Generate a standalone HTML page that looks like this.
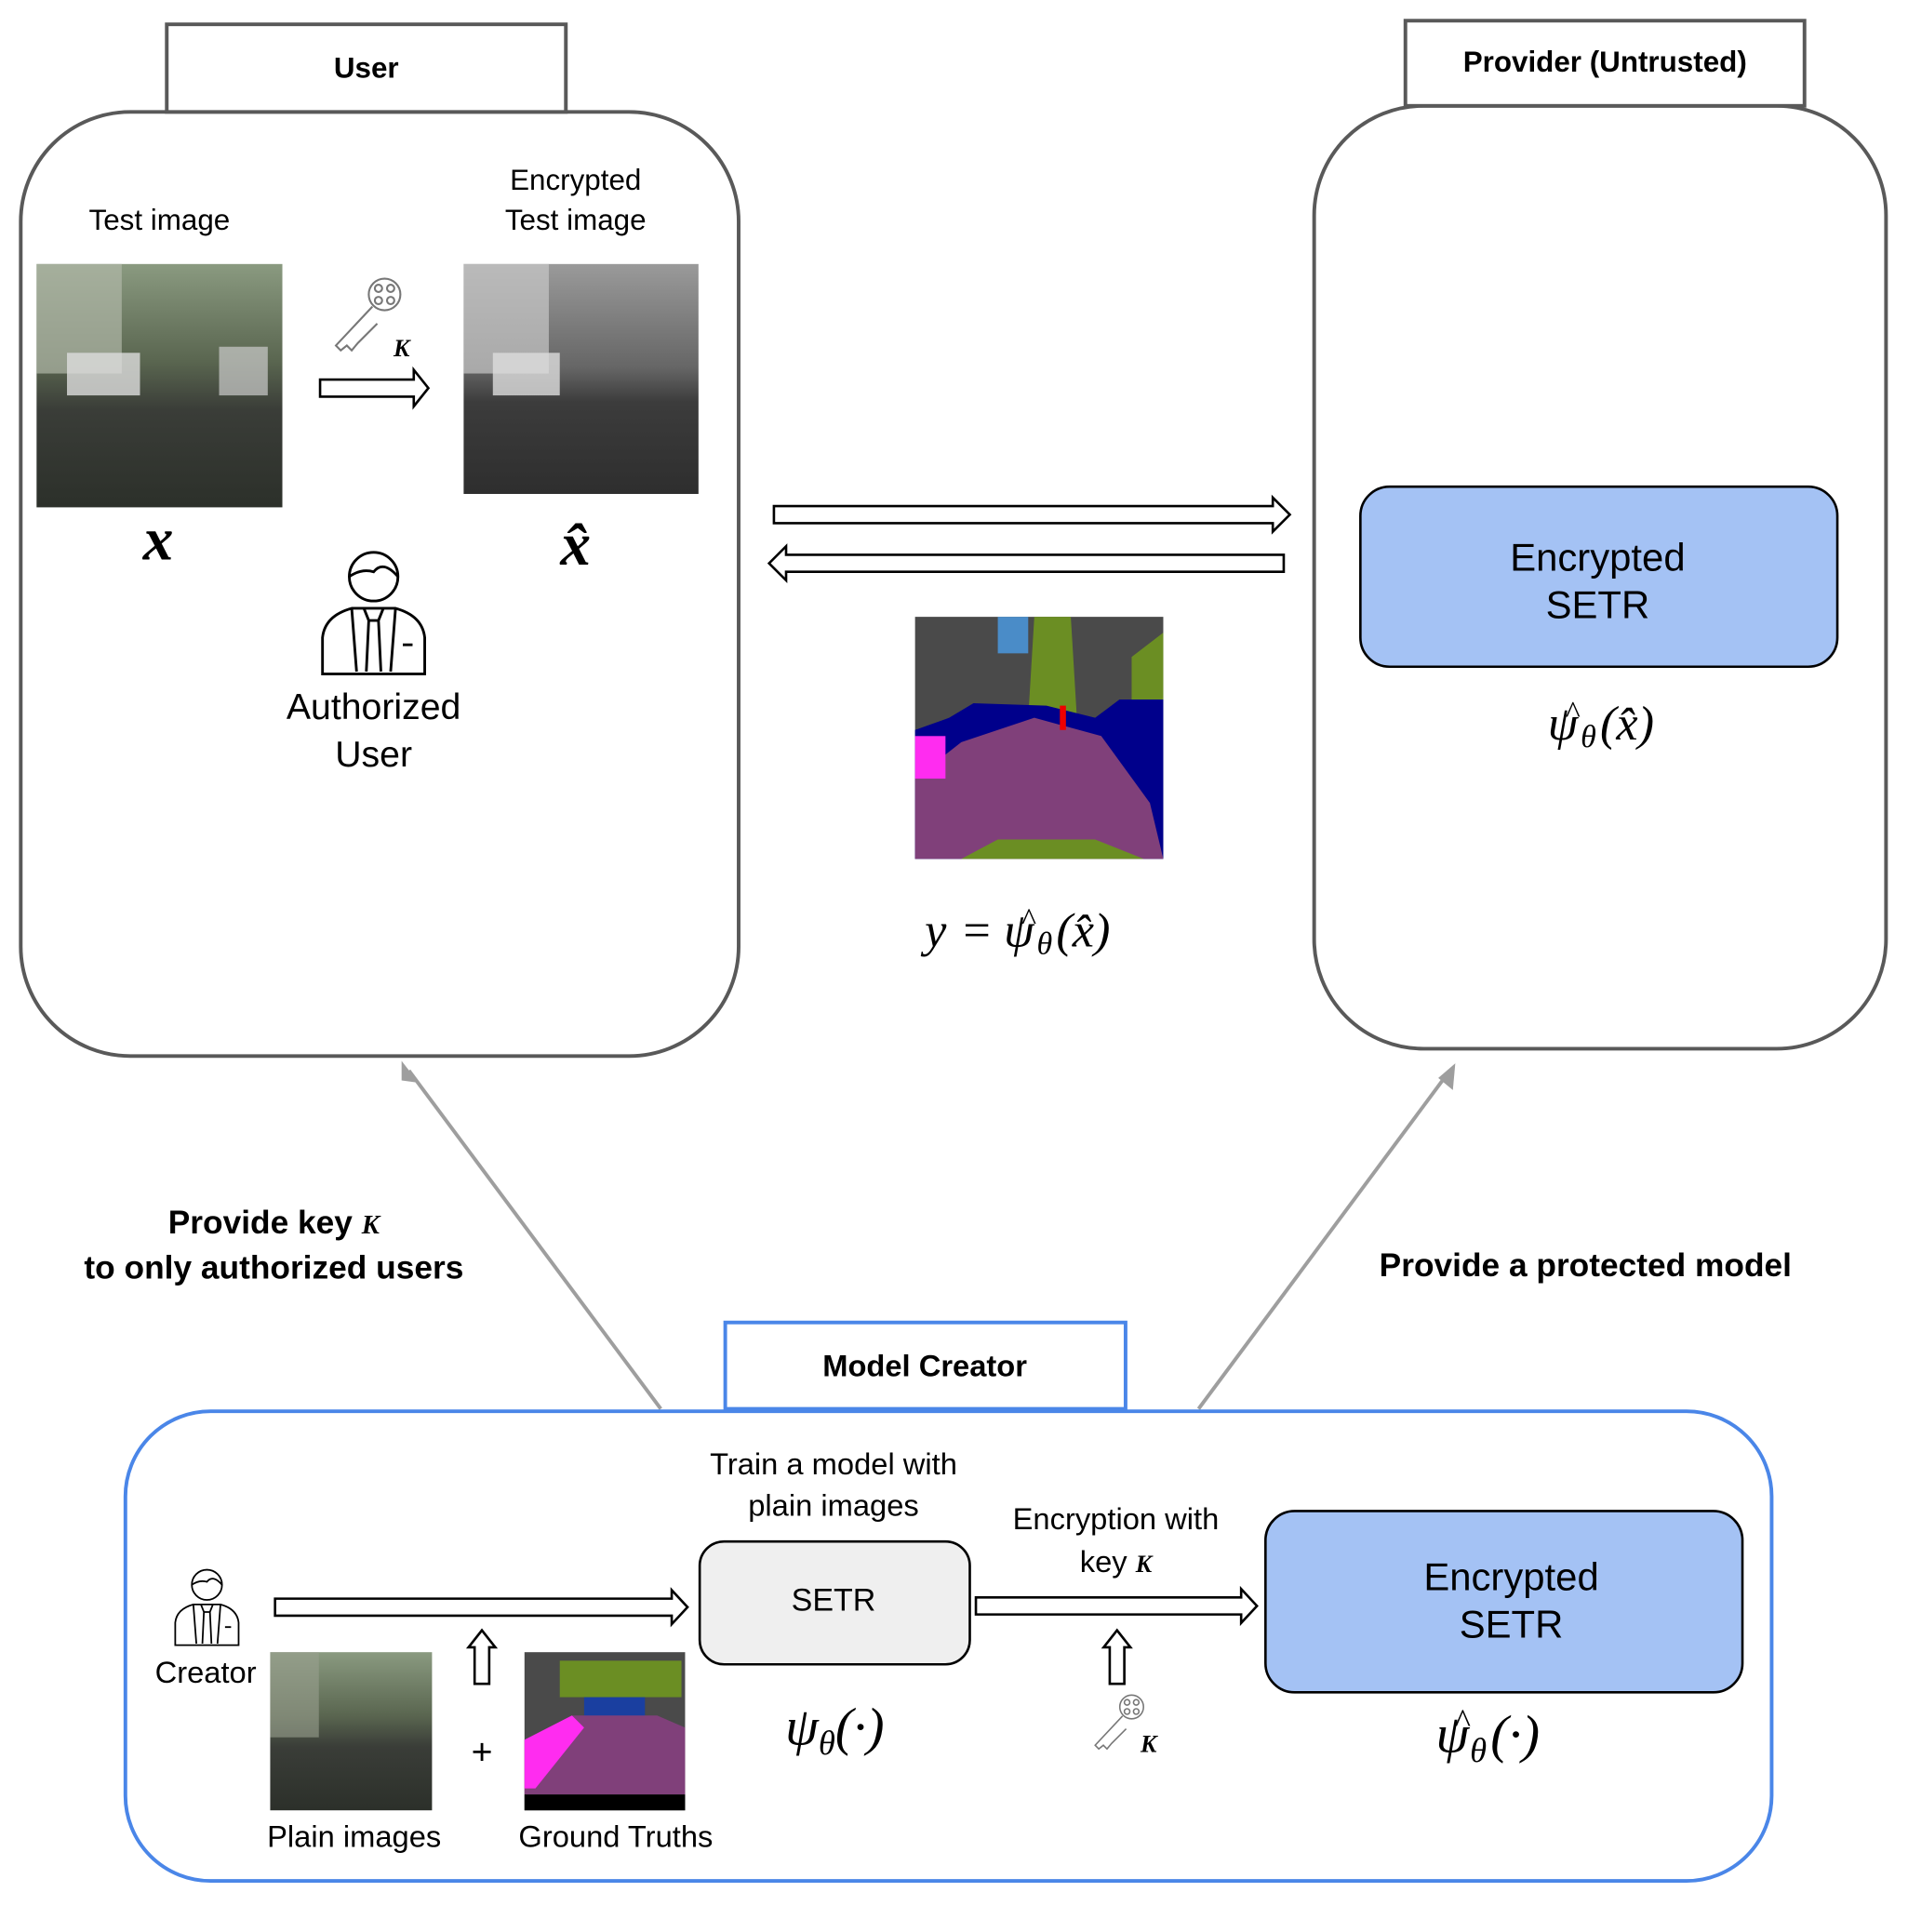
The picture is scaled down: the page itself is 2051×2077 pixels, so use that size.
<!DOCTYPE html>
<html><head><meta charset="utf-8"><style>html,body{margin:0;padding:0;background:#fff}svg{display:block}
.s{font-family:"Liberation Sans",sans-serif}.m{font-family:"Liberation Serif",serif;font-style:italic}</style></head>
<body>
<svg width="2051" height="2077" viewBox="0 0 1568 1588" xmlns="http://www.w3.org/2000/svg">
<defs>
<linearGradient id="st" x1="0" y1="0" x2="0" y2="1"><stop offset="0" stop-color="#8a9a80"/><stop offset="0.4" stop-color="#5a6650"/><stop offset="0.6" stop-color="#3a3d38"/><stop offset="1" stop-color="#2c302a"/></linearGradient>
<linearGradient id="sg" x1="0" y1="0" x2="0" y2="1"><stop offset="0" stop-color="#9a9a9a"/><stop offset="0.45" stop-color="#666"/><stop offset="0.6" stop-color="#3c3c3c"/><stop offset="1" stop-color="#2e2e2e"/></linearGradient>
<g id="user" fill="none" stroke="#000" stroke-width="2.2">
<circle cx="0" cy="-28" r="20"/><path d="M-20 -28 Q-10 -35 0 -32 Q8 -42 20 -28"/>
<path d="M-42 52 L-42 22 Q-40 4 -18 -2 L18 -2 Q40 4 42 22 L42 52 Z"/>
<path d="M-8 -2 L-4 8 L-6 50 M8 -2 L4 8 L6 50 M-4 8 L4 8 M-18 -2 L-14 50 M18 -2 L14 50 M24 28 L32 28"/>
</g>
<g id="key" fill="none" stroke="#777" stroke-width="1.6">
<circle cx="16" cy="-16" r="13"/><circle cx="11" cy="-21" r="3"/><circle cx="21" cy="-21" r="3"/><circle cx="11" cy="-11" r="3"/><circle cx="21" cy="-11" r="3"/><path d="M6 -6 L-24 26 L-20 30 L-15 26 L-11 30 L-6 24 L10 8"/>
</g>
</defs>
<!-- User -->
<rect x="17" y="92" width="590" height="776" rx="90" fill="none" stroke="#595959" stroke-width="3"/>
<rect x="137" y="20" width="328" height="72" fill="#fff" stroke="#595959" stroke-width="3"/>
<text x="301" y="64" class="s" font-size="24" font-weight="bold" text-anchor="middle">User</text>
<text x="131" y="189" class="s" font-size="24" text-anchor="middle">Test image</text>
<rect x="30" y="217" width="202" height="200" fill="url(#st)"/>
<rect x="30" y="217" width="70" height="90" fill="#b0b8a8" opacity="0.7"/>
<rect x="55" y="290" width="60" height="35" fill="#ddd" opacity="0.8"/>
<rect x="180" y="285" width="40" height="40" fill="#ccc" opacity="0.7"/>
<text x="473" y="156" class="s" font-size="24" text-anchor="middle">Encrypted</text>
<text x="473" y="189" class="s" font-size="24" text-anchor="middle">Test image</text>
<rect x="381" y="217" width="193" height="189" fill="url(#sg)"/>
<rect x="381" y="217" width="70" height="90" fill="#c8c8c8" opacity="0.7"/>
<rect x="405" y="290" width="55" height="35" fill="#ddd" opacity="0.8"/>
<use href="#key" x="300" y="258"/>
<text x="330" y="293" class="m" font-size="20" font-weight="bold" text-anchor="middle">K</text>
<path d="M263 312 L340 312 L340 304 L352 319 L340 334 L340 326 L263 326 Z" fill="#fff" stroke="#000" stroke-width="2"/>
<text x="130" y="460" class="m" font-size="50" font-weight="bold" text-anchor="middle">x</text>
<text x="473" y="464" class="m" font-size="50" font-weight="bold" text-anchor="middle">x̂</text>
<use href="#user" x="307" y="502"/>
<text x="307" y="591" class="s" font-size="30" text-anchor="middle">Authorized</text>
<text x="307" y="630" class="s" font-size="30" text-anchor="middle">User</text>
<!-- middle arrows -->
<path d="M636 416 L1046 416 L1046 409 L1060 423 L1046 437 L1046 430 L636 430 Z" fill="#fff" stroke="#000" stroke-width="2"/>
<path d="M1055 456 L646 456 L646 449 L632 463 L646 477 L646 470 L1055 470 Z" fill="#fff" stroke="#000" stroke-width="2"/>
<rect x="752" y="507" width="204" height="199" fill="#4a4a4a"/>
<rect x="820" y="507" width="25" height="30" fill="#4a8cc8"/>
<path d="M850 507 L880 507 L885 590 L845 590 Z" fill="#6b8e23"/>
<path d="M930 540 L956 520 L956 600 L930 600 Z" fill="#6b8e23"/>
<path d="M752 600 L780 590 L800 578 L860 580 L900 590 L920 575 L956 575 L956 706 L752 706 Z" fill="#00008b"/>
<path d="M752 640 L790 610 L850 590 L905 605 L945 660 L956 706 L752 706 Z" fill="#80407a"/>
<rect x="752" y="605" width="25" height="35" fill="#ff2cf0"/>
<path d="M790 706 L820 690 L900 690 L940 706 Z" fill="#6b8e23"/>
<rect x="871" y="580" width="5" height="20" fill="#e00"/>
<text x="760" y="778" class="m" font-size="40">y</text>
<text x="789" y="778" class="m" font-size="40">=</text>
<text x="825" y="778" class="m" font-size="40">ψ</text>
<text x="839" y="764" class="m" font-size="26">^</text>
<text x="852" y="784" class="m" font-size="26">θ</text>
<text x="868" y="778" class="m" font-size="40">(x̂)</text>
<!-- Provider -->
<rect x="1080" y="87" width="470" height="775" rx="90" fill="none" stroke="#595959" stroke-width="3"/>
<rect x="1155" y="17" width="328" height="70" fill="#fff" stroke="#595959" stroke-width="3"/>
<text x="1319" y="59" class="s" font-size="24" font-weight="bold" text-anchor="middle">Provider (Untrusted)</text>
<rect x="1118" y="400" width="392" height="148" rx="24" fill="#a4c2f4" stroke="#000" stroke-width="2"/>
<text x="1313" y="469" class="s" font-size="32" text-anchor="middle">Encrypted</text>
<text x="1313" y="508" class="s" font-size="32" text-anchor="middle">SETR</text>
<text x="1272" y="608" class="m" font-size="40">ψ</text>
<text x="1286" y="594" class="m" font-size="26">^</text>
<text x="1299" y="614" class="m" font-size="26">θ</text>
<text x="1315" y="608" class="m" font-size="40">(x̂)</text>
<!-- gray connectors -->
<g stroke="#9e9e9e" stroke-width="3" fill="#9e9e9e">
<line x1="543" y1="1158" x2="336" y2="880"/>
<line x1="985" y1="1158" x2="1190" y2="882"/>
</g>
<path d="M330 872 L344 890 L330 888 Z" fill="#9e9e9e"/>
<path d="M1196 874 L1194 896 L1182 886 Z" fill="#9e9e9e"/>
<text x="225" y="1014" class="s" font-size="27" font-weight="bold" text-anchor="middle">Provide key <tspan class="m" font-size="22">K</tspan></text>
<text x="225" y="1051" class="s" font-size="27" font-weight="bold" text-anchor="middle">to only authorized users</text>
<text x="1303" y="1049" class="s" font-size="27" font-weight="bold" text-anchor="middle">Provide a protected model</text>
<!-- Model creator -->
<rect x="103" y="1160" width="1353" height="386" rx="70" fill="none" stroke="#4a86e8" stroke-width="3"/>
<rect x="596" y="1087" width="329" height="71" fill="#fff" stroke="#4a86e8" stroke-width="3"/>
<text x="760" y="1131" class="s" font-size="25" font-weight="bold" text-anchor="middle">Model Creator</text>
<g transform="translate(170 1320) scale(0.62)"><use href="#user"/></g>
<text x="169" y="1383" class="s" font-size="25" text-anchor="middle">Creator</text>
<path d="M226 1314 L552 1314 L552 1307 L565 1321 L552 1335 L552 1328 L226 1328 Z" fill="#fff" stroke="#000" stroke-width="2"/>
<path d="M390 1384 L390 1354 L385 1354 L396 1340 L407 1354 L402 1354 L402 1384 Z" fill="#fff" stroke="#000" stroke-width="2"/>
<rect x="222" y="1358" width="133" height="130" fill="url(#st)"/>
<rect x="222" y="1358" width="40" height="70" fill="#9aa090" opacity="0.6"/>
<text x="396" y="1450" class="s" font-size="30" text-anchor="middle">+</text>
<rect x="431" y="1358" width="132" height="130" fill="#4a4a4a"/>
<rect x="460" y="1365" width="100" height="30" fill="#6b8e23"/>
<rect x="480" y="1395" width="50" height="25" fill="#1a3fa0"/>
<path d="M431 1430 L470 1410 L540 1410 L563 1420 L563 1475 L431 1475 Z" fill="#80407a"/>
<path d="M431 1430 L470 1410 L480 1420 L440 1470 L431 1470 Z" fill="#ff2cf0"/>
<rect x="431" y="1475" width="132" height="13" fill="#000"/>
<text x="291" y="1518" class="s" font-size="25" text-anchor="middle">Plain images</text>
<text x="506" y="1518" class="s" font-size="25" text-anchor="middle">Ground Truths</text>
<text x="685" y="1212" class="s" font-size="25" text-anchor="middle">Train a model with</text>
<text x="685" y="1246" class="s" font-size="25" text-anchor="middle">plain images</text>
<rect x="575" y="1267" width="222" height="101" rx="20" fill="#efefef" stroke="#000" stroke-width="2"/>
<text x="685" y="1324" class="s" font-size="26" text-anchor="middle">SETR</text>
<text x="686" y="1434" class="m" font-size="44" text-anchor="middle">ψ<tspan font-size="28" dy="8">θ</tspan><tspan dy="-8">(·)</tspan></text>
<text x="917" y="1257" class="s" font-size="25" text-anchor="middle">Encryption with</text>
<text x="917" y="1292" class="s" font-size="25" text-anchor="middle">key <tspan class="m" font-size="20" font-weight="bold">K</tspan></text>
<path d="M802 1313 L1020 1313 L1020 1306 L1033 1320 L1020 1334 L1020 1327 L802 1327 Z" fill="#fff" stroke="#000" stroke-width="2"/>
<path d="M912 1384 L912 1354 L907 1354 L918 1340 L929 1354 L924 1354 L924 1384 Z" fill="#fff" stroke="#000" stroke-width="2"/>
<g transform="translate(918 1415) scale(0.75)"><use href="#key"/></g>
<text x="944" y="1440" class="m" font-size="20" font-weight="bold" text-anchor="middle">K</text>
<rect x="1040" y="1242" width="392" height="149" rx="24" fill="#a4c2f4" stroke="#000" stroke-width="2"/>
<text x="1242" y="1307" class="s" font-size="32" text-anchor="middle">Encrypted</text>
<text x="1242" y="1346" class="s" font-size="32" text-anchor="middle">SETR</text>
<text x="1180" y="1440" class="m" font-size="44">ψ</text>
<text x="1195" y="1424" class="m" font-size="28">^</text>
<text x="1208" y="1448" class="m" font-size="28">θ</text>
<text x="1225" y="1440" class="m" font-size="44">(·)</text>
</svg>
</body></html>
